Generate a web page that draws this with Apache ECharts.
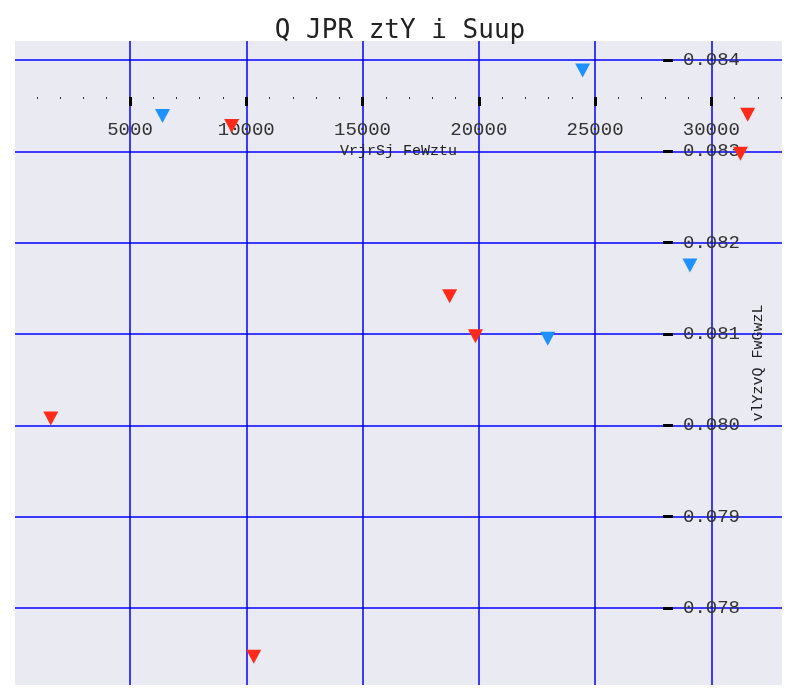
<!DOCTYPE html>
<html><head><meta charset="utf-8">
<script src="https://cdn.jsdelivr.net/npm/echarts@6/dist/echarts.min.js"></script>
<style>html,body{margin:0;padding:0;background:#fff}#c{width:800px;height:700px}</style>
</head><body><div id="c"></div>
<script>
const titleText = 'Q JPR ztY i Suup';
const xName = 'VrjrSj FeWztu';
const yName = 'vlYzvQ FwGwzL';
const xTicks = [5000, 10000, 15000, 20000, 25000, 30000];
const xMinorTicks = [1000, 2000, 3000, 4000, 6000, 7000, 8000, 9000, 11000, 12000, 13000, 14000,
  16000, 17000, 18000, 19000, 21000, 22000, 23000, 24000, 26000, 27000, 28000, 29000,
  31000, 32000, 33000];
const yTicks = [0.078, 0.079, 0.080, 0.081, 0.082, 0.083, 0.084];
const blueX = [6398, 24466, 29080, 22965];
const blueY = [0.083387, 0.083885, 0.081750, 0.080947];
const redX = [9373, 31565, 31252, 18747, 19857, 1594, 10323];
const redY = [0.083277, 0.083401, 0.082973, 0.081413, 0.080975, 0.080075, 0.077465];
const xRange = [55, 33040];
const yRange = [0.077157, 0.084208];

const FONT = 'Liberation Mono';
const TITLE_FONT = 'DejaVu Sans Mono';
const pairs = (xs, ys) => xs.map((x, i) => [x, ys[i]]);

const chart = echarts.init(document.getElementById('c'), null, {renderer: 'canvas'});
chart.setOption({
  animation: false,
  backgroundColor: '#ffffff',
  title: {
    text: titleText, left: 'center', top: 13,
    textStyle: {fontFamily: TITLE_FONT, fontSize: 26, fontWeight: 'normal', color: '#222222'}
  },
  grid: {left: 15, right: 18, top: 41, bottom: 15, show: true, backgroundColor: '#EAEAF2',
    borderWidth: 0, outerBoundsMode: 'none', containLabel: false},
  xAxis: [{
    type: 'value', min: xRange[0], max: xRange[1], position: 'bottom', offset: -588,
    name: xName, nameLocation: 'middle', nameGap: 47,
    nameTextStyle: {fontFamily: FONT, fontSize: 15, color: '#222222'},
    axisLine: {show: false},
    axisTick: {show: true, customValues: xTicks, length: 9, lineStyle: {color: '#000000', width: 3}},
    axisLabel: {show: true, customValues: xTicks, margin: 23, fontFamily: FONT, fontSize: 19, color: '#333333',
      formatter: v => String(v)},
    splitLine: {show: true, lineStyle: {color: '#0000FF', width: 1.5}}
  }, {
    type: 'value', min: xRange[0], max: xRange[1], position: 'bottom', offset: -588,
    axisLine: {show: false},
    axisTick: {show: true, customValues: xMinorTicks, length: 2, lineStyle: {color: '#333333', width: 1}},
    axisLabel: {show: false},
    splitLine: {show: false}
  }],
  yAxis: [{
    type: 'value', min: yRange[0], max: yRange[1], position: 'right', offset: -119,
    name: yName, nameLocation: 'middle', nameGap: 86,
    nameTextStyle: {fontFamily: FONT, fontSize: 15, color: '#222222'},
    axisLine: {show: false},
    axisTick: {show: true, customValues: yTicks, length: 10, lineStyle: {color: '#000000', width: 3}},
    axisLabel: {show: true, customValues: yTicks, margin: 20, fontFamily: FONT, fontSize: 19, color: '#333333',
      formatter: v => Number(v).toFixed(3)},
    splitLine: {show: true, lineStyle: {color: '#0000FF', width: 1.5}}
  }],
  series: [{
    type: 'scatter', name: 'blue', xAxisIndex: 0, yAxisIndex: 0,
    data: pairs(blueX, blueY), symbol: 'triangle', symbolRotate: 180, symbolSize: [15, 14],
    itemStyle: {color: '#1E90FF', opacity: 1}
  }, {
    type: 'scatter', name: 'red', xAxisIndex: 0, yAxisIndex: 0,
    data: pairs(redX, redY), symbol: 'triangle', symbolRotate: 180, symbolSize: [15, 14],
    itemStyle: {color: '#FF2A1A', opacity: 1}
  }]
});
</script></body></html>
